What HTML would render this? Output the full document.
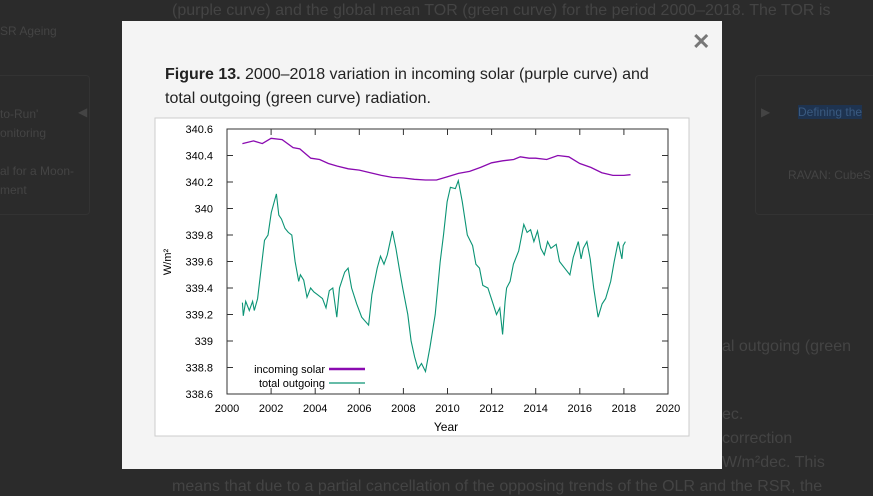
<!DOCTYPE html>
<html><head><meta charset="utf-8"><style>
body{margin:0;width:873px;height:491px;overflow:hidden;background:#2b2b2b;font-family:"Liberation Sans",sans-serif;position:relative}
.bg{position:absolute;color:#444;font-size:15px;white-space:nowrap}
.card{position:absolute;border:1px solid #333;border-radius:4px}
#modal{position:absolute;left:122px;top:21px;width:600px;height:448px;background:#f4f4f4}
#cap{position:absolute;left:43px;top:42px;width:495px;font-size:16px;line-height:24px;color:#222}
#close{position:absolute;left:570px;top:8px;font-size:22px;color:#777;font-weight:bold}
</style></head><body>
<div class="bg" style="left:172px;top:2px;font-size:16px">(purple curve) and the global mean TOR (green curve) for the period 2000–2018. The TOR is</div>
<div class="bg" style="left:0;top:24px;font-size:12px">SR Ageing</div>
<div class="card" style="left:-5px;top:75px;width:93px;height:138px"></div>
<div class="bg" style="left:0;top:105px;font-size:12px;line-height:19px">to-Run'<br>onitoring<br><br>al for a Moon-<br>ment</div>
<div class="bg" style="left:78px;top:105px;font-size:12px">◀</div>
<div class="card" style="left:755px;top:75px;width:130px;height:138px"></div>
<div class="bg" style="left:761px;top:105px;font-size:12px">▶</div>
<div class="bg" style="left:798px;top:105px;font-size:12px;background:#1e3350;color:#3a5a80">Defining the</div>
<div class="bg" style="left:788px;top:168px;font-size:12px">RAVAN: CubeS</div>
<div class="bg" style="left:722px;top:338px;font-size:16px">al outgoing (green</div>
<div class="bg" style="left:722px;top:406px;font-size:16px">ec.</div>
<div class="bg" style="left:722px;top:430px;font-size:16px">correction</div>
<div class="bg" style="left:722px;top:454px;font-size:16px">W/m²dec. This</div>
<div class="bg" style="left:172px;top:478px;font-size:16px">means that due to a partial cancellation of the opposing trends of the OLR and the RSR, the</div>
<div id="modal">
<div id="close">✕</div>
<div id="cap"><b>Figure 13.</b> 2000–2018 variation in incoming solar (purple curve) and total outgoing (green curve) radiation.</div>
</div>
<svg id="chart" width="873" height="491" style="position:absolute;left:0;top:0">
<rect x="155" y="118" width="534" height="318" fill="#fff" stroke="#ccc"/>
</svg>
<script>
const xTicks=[2000,2002,2004,2006,2008,2010,2012,2014,2016,2018,2020];
const yTicks=[338.6,338.8,339,339.2,339.4,339.6,339.8,340,340.2,340.4,340.6];
const yTickLabels=["338.6","338.8","339","339.2","339.4","339.6","339.8","340","340.2","340.4","340.6"];
const solarYears=[2000.7,2001.2,2001.6,2002,2002.5,2003,2003.3,2003.8,2004.2,2004.6,2005,2005.5,2006,2006.5,2007,2007.5,2008,2008.5,2009,2009.5,2010,2010.5,2011,2011.5,2012,2012.5,2013,2013.3,2013.7,2014,2014.5,2015,2015.5,2016,2016.5,2017,2017.5,2018,2018.3];
const solarValues=[340.49,340.51,340.49,340.53,340.52,340.46,340.45,340.38,340.37,340.34,340.32,340.30,340.29,340.27,340.25,340.235,340.23,340.22,340.215,340.215,340.24,340.265,340.28,340.31,340.345,340.36,340.37,340.39,340.38,340.38,340.37,340.40,340.39,340.34,340.31,340.27,340.25,340.25,340.255];
const outYears=[2000.70,2000.74,2000.85,2001.01,2001.16,2001.24,2001.39,2001.55,2001.70,2001.86,2002.01,2002.24,2002.35,2002.47,2002.63,2002.78,2002.94,2003.09,2003.25,2003.33,2003.48,2003.63,2003.79,2003.94,2004.10,2004.33,2004.49,2004.64,2004.80,2004.98,2005.10,2005.34,2005.49,2005.65,2005.88,2006.11,2006.42,2006.57,2006.81,2006.96,2007.12,2007.27,2007.50,2007.66,2007.81,2007.97,2008.20,2008.35,2008.51,2008.66,2008.82,2009.00,2009.20,2009.44,2009.67,2009.82,2009.98,2010.13,2010.36,2010.49,2010.67,2010.90,2011.14,2011.29,2011.45,2011.60,2011.83,2012.07,2012.22,2012.37,2012.50,2012.61,2012.68,2012.84,2012.99,2013.23,2013.46,2013.61,2013.77,2013.92,2014.08,2014.23,2014.39,2014.54,2014.69,2014.93,2015.08,2015.31,2015.55,2015.70,2015.93,2016.06,2016.16,2016.32,2016.47,2016.63,2016.83,2017.01,2017.17,2017.40,2017.56,2017.74,2017.91,2017.97,2018.07];
const outValues=[339.29,339.19,339.30,339.23,339.30,339.23,339.32,339.55,339.76,339.80,339.97,340.11,339.95,339.92,339.85,339.82,339.80,339.60,339.45,339.50,339.46,339.33,339.40,339.37,339.35,339.32,339.25,339.38,339.40,339.18,339.40,339.52,339.55,339.40,339.28,339.18,339.12,339.35,339.55,339.64,339.58,339.65,339.83,339.70,339.55,339.40,339.20,339.00,338.88,338.79,338.83,338.77,338.95,339.20,339.60,339.80,340.05,340.16,340.15,340.21,340.05,339.80,339.72,339.58,339.55,339.42,339.40,339.28,339.20,339.25,339.05,339.30,339.40,339.45,339.58,339.68,339.88,339.82,339.84,339.75,339.83,339.70,339.65,339.75,339.70,339.73,339.60,339.55,339.50,339.63,339.75,339.62,339.70,339.75,339.62,339.40,339.18,339.28,339.32,339.45,339.60,339.75,339.62,339.72,339.75];
const X0=227,X1=668,Y0=394,Y1=129;
function xs(v){return X0+(v-2000)/20*(X1-X0);}
function ys(v){return Y0-(v-338.6)/2*(Y0-Y1);}
const svg=document.getElementById('chart');const NS='http://www.w3.org/2000/svg';
function mk(t,a,txt){const e=document.createElementNS(NS,t);for(const k in a)e.setAttribute(k,a[k]);if(txt!==undefined)e.textContent=txt;svg.appendChild(e);return e;}
let e;
e=mk('rect',{x:X0,y:Y1,width:X1-X0,height:Y0-Y1,fill:'none',stroke:'#333','stroke-width':1});


xTicks.forEach(t=>{const x=xs(t);
 e=mk('line',{x1:x,x2:x,y1:Y0,y2:Y0-6,stroke:'#333'});
 
 
 mk('line',{x1:x,x2:x,y1:Y1,y2:Y1+6,stroke:'#333'});
 e=mk('text',{x:x,y:Y0+18,'text-anchor':'middle','font-size':11,fill:'#000','font-family':'Liberation Sans'},String(t));
 
 });
yTicks.forEach((t,i)=>{const y=ys(t);
 e=mk('line',{x1:X0,x2:X0+6,y1:y,y2:y,stroke:'#333'});
 
 
 mk('line',{x1:X1,x2:X1-6,y1:y,y2:y,stroke:'#333'});
 e=mk('text',{x:X0-14,y:y+4,'text-anchor':'end','font-size':11,fill:'#000','font-family':'Liberation Sans'},yTickLabels[i]);
 
 });
e=mk('text',{x:446,y:431,'text-anchor':'middle','font-size':12,'font-family':'Liberation Sans'},'Year');


e=mk('text',{x:0,y:0,'text-anchor':'middle','font-size':11,'font-family':'Liberation Sans',transform:'translate(171,262) rotate(-90)'},'W/m²');


function pts(xa,va){return xa.map((x,i)=>xs(x).toFixed(1)+','+ys(va[i]).toFixed(1)).join(' ');}
e=mk('polyline',{points:pts(solarYears,solarValues),fill:'none',stroke:'#8a0ab0','stroke-width':1.3});


e=mk('polyline',{points:pts(outYears,outValues),fill:'none',stroke:'#0b9475','stroke-width':1.1});


e=mk('text',{x:325,y:373,'text-anchor':'end','font-size':11,'font-family':'Liberation Sans'},'incoming solar');


mk('line',{x1:329,x2:365,y1:369,y2:369,stroke:'#8a0ab0','stroke-width':2.5});
e=mk('text',{x:325,y:387,'text-anchor':'end','font-size':11,'font-family':'Liberation Sans'},'total outgoing');


mk('line',{x1:329,x2:365,y1:383,y2:383,stroke:'#0b9475','stroke-width':1.2});
</script>
</body></html>
